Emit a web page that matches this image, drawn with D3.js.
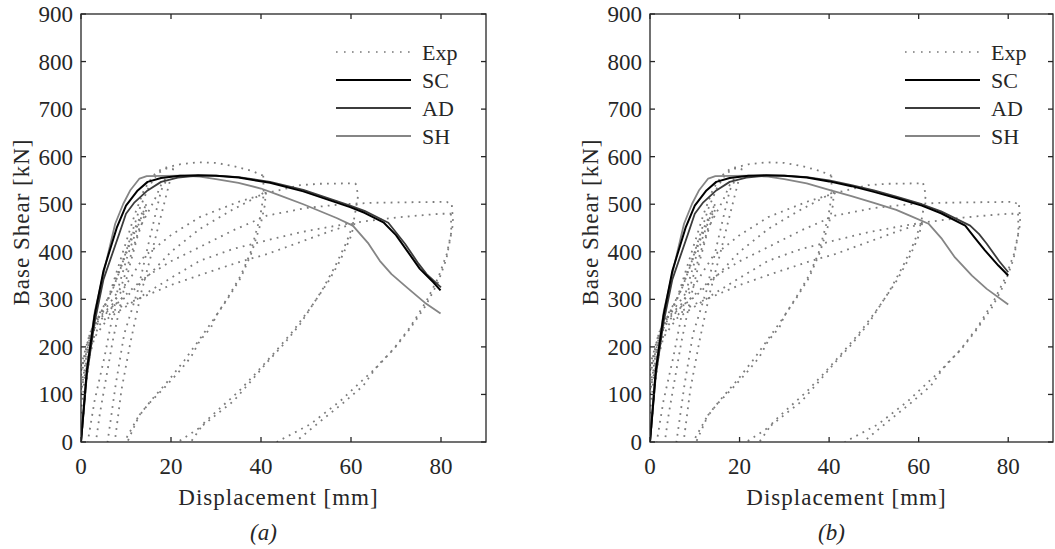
<!DOCTYPE html>
<html><head><meta charset="utf-8">
<script src="https://cdn.jsdelivr.net/npm/d3@7/dist/d3.min.js"></script>
<style>
html,body{margin:0;padding:0;background:#fff;}
</style></head>
<body><svg id="c" width="1055" height="549"></svg>
<script>
// ---------- data ----------
const xTicks = [0, 20, 40, 60, 80];
const yTicks = [0, 100, 200, 300, 400, 500, 600, 700, 800, 900];
const xLabel = "Displacement [mm]";
const yLabel = "Base Shear [kN]";
const seriesNames = ["Exp", "SC", "AD", "SH"];
const captions = ["(a)", "(b)"];

// numerical models, panel (a)
const scA = [[0,0],[1.3,150],[3,265],[5,360],[8,452],[10,497],[12.6,529],[14.8,547],[17.8,555],[22,560],[26,561],[30,560],[35,556],[42,545],[49.4,527],[56,506],[59.8,494],[63,482],[67.2,462],[70,435],[72.4,403],[75.3,364],[78.3,336],[79.9,319]];
const adA = [[0,0],[1.3,140],[3,250],[5,342],[8.5,438],[10,480],[11.9,504],[14.8,529],[17.8,547],[21.5,556],[26,560],[30,560],[35,557],[42,547],[49.4,530],[56,509],[59.8,497],[63,486],[68.3,461],[72,417],[75,375],[76.8,353],[80,325]];
const shA = [[0,0],[0.15,17],[1.3,157],[3.1,276],[5.3,367],[7.6,459],[9.4,501],[11,530],[13,554],[14.6,559],[22,560],[26.4,558],[30,553],[35,545],[40,533],[44,519],[49.4,500],[56.8,471],[60.4,455],[63.9,417],[66.4,381],[69,353],[72.4,325],[76.4,293],[79.9,270]];
// numerical models, panel (b)
const scB = [[0,0],[1.3,150],[3,265],[5,360],[8,452],[10,497],[12.6,529],[14.8,547],[17.8,555],[22,560],[26,561],[30,560],[35,556],[40,548],[45,538],[50,526],[55,513],[60.7,497],[65,481],[70.4,455],[72.5,430],[74.8,403],[77.8,371],[80,350]];
const adB = [[0,0],[1.3,140],[3,250],[5,342],[8.5,438],[10,480],[11.9,504],[14.8,529],[17.8,547],[21.5,556],[26,560],[30,560],[35,557],[40,550],[45,540],[50,529],[55,516],[60.7,500],[65,485],[71.5,455],[73.5,437],[75.2,417],[78,380],[80,357]];
const shB = [[0,0],[0.15,17],[1.3,157],[3.1,276],[5.3,367],[7.6,459],[9.4,501],[11,530],[13,554],[14.6,559],[22,560],[26.4,558],[30,553],[35,544],[40,530],[45,517],[50,503],[55,488],[58,476],[62.2,459],[65.2,427],[68.1,388],[71.9,350],[75.2,322],[80,289]];

// experimental hysteresis branches (positive quadrant), same in both panels
const expLoad1   = [[0,0],[1,110],[2,190],[3,240],[4,265],[6,300],[8,350],[10,400],[12,450],[14.5,500]];
const expUnload1 = [[14.5,500],[12.5,450],[10.3,390],[8.1,318],[6.5,240],[5.2,178],[3,86],[1.5,0]];
const expLoad2   = [[0,60],[1,150],[2,210],[3,245],[5,280],[7,320],[9,370],[11,420],[13,465],[14.5,488]];
const expUnload2 = [[14.5,488],[12.5,430],[10.8,370],[9,300],[7,210],[5.5,130],[4.2,60],[3.3,0]];
const expLoad3   = [[0,100],[1,170],[2,220],[3.5,260],[5,285],[7,320],[9,370],[11,430],[13,490],[15,535],[17,565],[19,575],[20.5,575]];
const expUnload3 = [[20.5,575],[19.6,543],[17.5,465],[15.5,390],[13.3,311],[11,210],[9,110],[7.5,0]];
const expLoad4   = [[0,150],[1.5,210],[3,250],[5,275],[7,300],[8.9,325],[11,390],[13,450],[16.3,508],[18,545],[19.5,560]];
const expUnload4 = [[19.5,560],[17.8,529],[15.2,425],[12.6,318],[9.6,227],[7.7,120],[5.9,0]];
const expLoad5   = [[0,150],[2,230],[4,265],[6,300],[8,360],[10,420],[12,480],[14,530],[16,560],[18,575],[22,584],[26,588],[30,587],[34,580],[38,570],[40.5,560]];
const expUnload5 = [[40.5,560],[40.6,520],[39.8,473],[37.6,396],[35.5,350],[33.1,311],[30,265],[28.9,241],[26.4,213],[24.4,178],[21.5,145],[18.5,114],[15,80],[12.6,51],[9.6,0]];
const expLoad6   = [[0,140],[2,220],[4,258],[7,285],[10,305],[14,340],[20,400],[26.4,448],[33,485],[38,510],[41,526]];
const expUnload6 = [[41,526],[40.9,500],[40.1,465],[38,400],[35.5,345],[32.5,300],[29.5,258],[26.5,218],[23,172],[19.5,130],[16,92],[13,57],[10.3,0]];
const expLoad7   = [[0,160],[2,230],[4,262],[7,290],[10,330],[14,390],[20,435],[26.4,473],[35,505],[42,525],[48.7,540],[53,543],[61,544]];
const expUnload7 = [[61,544],[61.6,519],[60.5,459],[59,420],[56.5,370],[53.5,318],[48.7,248],[45,205],[41.3,167],[37.5,125],[33.9,86],[30,57],[26.4,30],[21.5,0]];
const expLoad8   = [[0,120],[2,200],[4,245],[7,275],[10,290],[13,302],[20,330],[27,353],[36,381],[41.3,395],[48,418],[55,442],[60.8,460]];
const expUnload8 = [[60.8,460],[59.8,428],[57.5,380],[55,338],[51,282],[47,232],[43,188],[39,146],[35,106],[31,72],[27.5,42],[24.4,0]];
const expLoad9   = [[0,150],[3,240],[6,275],[10,310],[14,345],[20,380],[26.4,410],[33.8,445],[41.3,476],[50,492],[58,500],[65,503],[72,504],[81.3,505],[82.4,498]];
const expUnload9 = [[82.4,498],[82.7,460],[81.3,396],[79.4,346],[76.8,297],[73.1,241],[69.4,195],[65.7,157],[62,125],[57.6,86],[50.9,37],[43.5,0]];
const expLoad10  = [[0,110],[3,220],[6,260],[10,285],[14,310],[20,345],[26.4,381],[33.8,406],[41.3,424],[48.7,441],[55,452],[61.3,462],[70,472],[76,477],[80,480],[82.2,480]];
const expUnload10= [[82.2,480],[82.3,440],[81.2,385],[79.3,335],[76.5,285],[73,237],[69.5,195],[66,162],[62.7,118],[58,80],[53,42],[47.6,0]];

const expBranches = [expLoad1, expUnload1, expLoad2, expUnload2, expLoad3, expUnload3, expLoad4, expUnload4,
  expLoad5, expUnload5, expLoad6, expUnload6, expLoad7, expUnload7, expLoad8, expUnload8,
  expLoad9, expUnload9, expLoad10, expUnload10];

const panelModels = [[scA, adA, shA], [scB, adB, shB]];

// ---------- drawing ----------
const FONT = "'Liberation Serif', 'Times New Roman', Times, 'DejaVu Serif', serif";
const svg = d3.select("#c");
const frames = [{l:81, r:486, t:14, b:442}, {l:650, r:1053, t:14, b:442}];
const axisCol = "#262626";
const styles = {
  Exp: {stroke:"#7c7c7c", width:1.8, dash:"1.8,5.2"},
  SC:  {stroke:"#000000", width:2.0, dash:null},
  AD:  {stroke:"#3c3c3c", width:1.8, dash:null},
  SH:  {stroke:"#858585", width:1.8, dash:null}
};

function txt(g, s, size) {
  return g.append("text").attr("font-family", FONT).attr("font-size", size)
    .attr("fill", axisCol).text(s);
}

frames.forEach((f, pi) => {
  const g = svg.append("g");
  const x = d3.scaleLinear().domain([0, 90]).range([f.l, f.r]);
  const y = d3.scaleLinear().domain([0, 900]).range([f.b, f.t]);
  const clipId = "clip" + pi;
  svg.append("clipPath").attr("id", clipId).append("rect")
    .attr("x", f.l).attr("y", f.t).attr("width", f.r - f.l).attr("height", f.b - f.t);

  const line = d3.line().x(d => x(d[0])).y(d => y(d[1]));
  const data = g.append("g").attr("clip-path", `url(#${clipId})`);

  expBranches.forEach(br => {
    data.append("path").attr("d", line(br)).attr("fill", "none")
      .attr("stroke", styles.Exp.stroke).attr("stroke-width", styles.Exp.width)
      .attr("stroke-dasharray", styles.Exp.dash);
  });
  const [sc, ad, sh] = panelModels[pi];
  [["SH", sh], ["AD", ad], ["SC", sc]].forEach(([k, d]) => {
    data.append("path").attr("d", line(d)).attr("fill", "none")
      .attr("stroke", styles[k].stroke).attr("stroke-width", styles[k].width)
      .attr("stroke-linejoin", "round");
  });

  // axes with inward ticks, box on all sides
  const tl = 5;
  const ax = g.append("g").attr("stroke", axisCol).attr("stroke-width", 1.3);
  ax.append("rect").attr("x", f.l).attr("y", f.t).attr("width", f.r - f.l).attr("height", f.b - f.t)
    .attr("fill", "none");
  xTicks.forEach(v => {
    ax.append("line").attr("x1", x(v)).attr("x2", x(v)).attr("y1", f.b).attr("y2", f.b - tl);
    ax.append("line").attr("x1", x(v)).attr("x2", x(v)).attr("y1", f.t).attr("y2", f.t + tl);
  });
  yTicks.forEach(v => {
    ax.append("line").attr("y1", y(v)).attr("y2", y(v)).attr("x1", f.l).attr("x2", f.l + tl);
    ax.append("line").attr("y1", y(v)).attr("y2", y(v)).attr("x1", f.r).attr("x2", f.r - tl);
  });
  const fs = 23;
  xTicks.forEach(v => {
    txt(g, v, fs).attr("x", x(v)).attr("y", 474).attr("text-anchor", "middle");
  });
  yTicks.forEach(v => {
    txt(g, v, fs).attr("x", f.l - 8).attr("y", y(v) + 8).attr("text-anchor", "end");
  });
  const cx = (f.l + f.r) / 2;
  txt(g, xLabel, 23).attr("x", cx - 5).attr("y", 505).attr("text-anchor", "middle")
    .attr("letter-spacing", 1);
  txt(g, yLabel, 23).attr("transform", `translate(${f.l - 52},${(f.t + f.b) / 2 - 6}) rotate(-90)`)
    .attr("text-anchor", "middle").attr("letter-spacing", 1);
  txt(g, captions[pi], 23).attr("x", cx - 20).attr("y", 540).attr("text-anchor", "middle")
    .attr("font-style", "italic");

  // legend
  const lx1 = f.l + 255, lx2 = f.l + 330, ltx = f.l + 341;
  seriesNames.forEach((n, i) => {
    const ly = 52 + i * 28;
    const st = styles[n];
    const ln = g.append("line").attr("x1", lx1).attr("x2", lx2).attr("y1", ly).attr("y2", ly)
      .attr("stroke", n === "Exp" ? "#999999" : st.stroke).attr("stroke-width", st.width);
    if (st.dash) ln.attr("stroke-dasharray", "1.6,6.4");
    txt(g, n, 22).attr("x", ltx).attr("y", ly + 7.5);
  });
});
</script></body></html>
